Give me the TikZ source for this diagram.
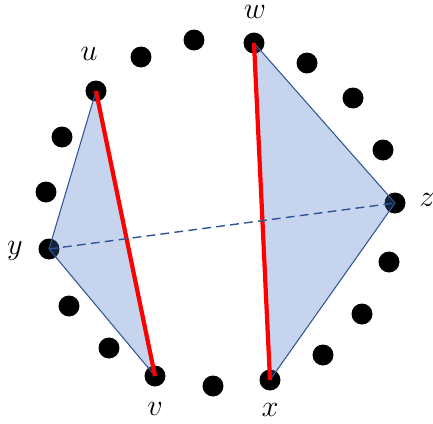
\documentclass[tikz,border=0pt]{standalone}
\usepackage{xcolor}
\usepackage{tikz}
\definecolor{triblue}{HTML}{4472C4}
\definecolor{edgeblue}{HTML}{2F5597}

\begin{document}
\begin{tikzpicture}[
  x=0.02cm, y=-0.02cm,
  pt/.style={circle, fill=black, inner sep=0pt, minimum size=0.42cm},
  lab/.style={font=\fontsize{16}{18}\selectfont, inner sep=1pt},
  tri/.style={draw=edgeblue, line width=0.6pt, fill=triblue, fill opacity=0.3, line join=round},
  chord/.style={red, line width=2.4pt},
  cross/.style={edgeblue, line width=0.8pt, dash pattern=on 5pt off 3pt}
]
\useasboundingbox (0,0) rectangle (433,423);
% the six named points
\node[pt] (u) at (96,91) {};
\node[pt] (w) at (254,43) {};
\node[pt] (z) at (395,203) {};
\node[pt] (y) at (49,249) {};
\node[pt] (v) at (155,376) {};
\node[pt] (x) at (270,380) {};
% the other points round the circle
\foreach \i/\p in {1/{(141,57)}, 2/{(194,40)}, 3/{(307,63)}, 4/{(353,98)}, 5/{(383,150)},
  6/{(389,262)}, 7/{(362,314)}, 8/{(323,355)}, 9/{(213,386)}, 10/{(109,348)},
  11/{(69,306)}, 12/{(46,192)}, 13/{(62,137)}}
  \node[pt] (d\i) at \p {};
% labels
\node[lab] (ul) at (89,54) {$u$};
\node[lab] (wl) at (255,12) {$w$};
\node[lab] (zl) at (427,200) {$z$};
\node[lab] (yl) at (15,251) {$y$};
\node[lab] (vl) at (155,409) {$v$};
\node[lab] (xl) at (270,410) {$x$};
% triangles
\draw[tri] (u.center) -- (y.center) -- (v.center) -- cycle;
\draw[tri] (w.center) -- (z.center) -- (x.center) -- cycle;
% chords
\draw[chord] (u.center) -- (v.center);
\draw[chord] (w.center) -- (x.center);
\draw[cross] (y.center) -- (z.center);
\end{tikzpicture}
\end{document}
